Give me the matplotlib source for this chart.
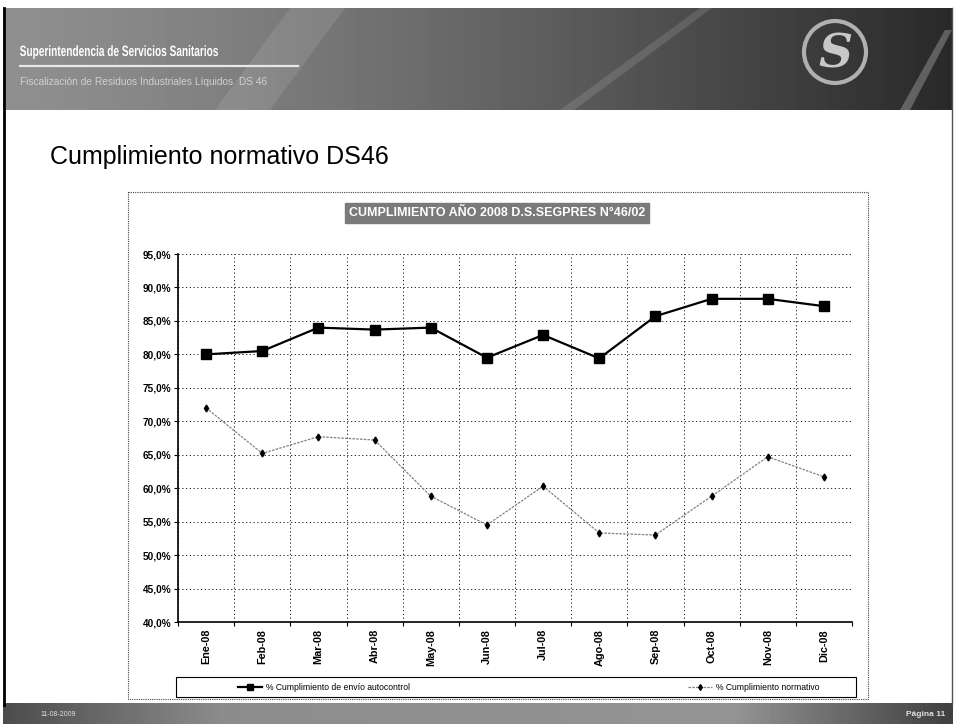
import matplotlib.pyplot as plt
import numpy as np
from matplotlib.font_manager import FontProperties
from matplotlib.patches import Rectangle, Polygon, Ellipse, PathPatch
from matplotlib.textpath import TextPath
from matplotlib.transforms import Affine2D
from matplotlib.ticker import FixedLocator, NullFormatter

plt.rcParams["font.family"] = ["Liberation Sans", "DejaVu Sans"]

# chart data
months = ["Ene-08", "Feb-08", "Mar-08", "Abr-08", "May-08", "Jun-08",
          "Jul-08", "Ago-08", "Sep-08", "Oct-08", "Nov-08", "Dic-08"]
envio_autocontrol = [80.0, 80.5, 84.0, 83.7, 84.0, 79.5,
                     82.9, 79.4, 85.7, 88.3, 88.3, 87.2]
cumplimiento_normativo = [72.0, 65.2, 67.7, 67.2, 58.8, 54.5,
                          60.3, 53.3, 53.0, 58.8, 64.7, 61.7]
y_ticks = [40, 45, 50, 55, 60, 65, 70, 75, 80, 85, 90, 95]

slide_title = "Cumplimiento normativo DS46"
chart_title = "CUMPLIMIENTO AÑO 2008 D.S.SEGPRES N°46/02"
legend_labels = ["% Cumplimiento de envío autocontrol", "% Cumplimiento normativo"]

W, H = 955, 724
fig = plt.figure(figsize=(W / 100, H / 100), dpi=100)

# background layer in pixel coordinates
bg = fig.add_axes([0, 0, 1, 1])
bg.set_xlim(0, W)
bg.set_ylim(H, 0)
bg.axis("off")

# header band with a dark gradient
grad = np.linspace(0, 1, 256)
shade = 0.56 - 0.40 * grad ** 1.3
header = np.tile(shade, (2, 1))
bg.imshow(header, cmap="gray", vmin=0, vmax=1, extent=(3, 952, 110, 8),
          aspect="auto", zorder=1)
bg.add_patch(Polygon([[215, 110], [290, 8], [345, 8], [270, 110]],
                     closed=True, color="white", alpha=0.10, lw=0, zorder=2))
bg.add_patch(Polygon([[560, 110], [700, 8], [712, 8], [574, 110]],
                     closed=True, color="white", alpha=0.12, lw=0, zorder=2))
bg.add_patch(Polygon([[900, 110], [945, 30], [952, 30], [910, 110]],
                     closed=True, color="white", alpha=0.25, lw=0, zorder=2))

# condensed header title: squeeze a bold text path horizontally
tp = TextPath((0, 0), "Superintendencia de Servicios Sanitarios", size=15,
              prop=FontProperties(family="Liberation Sans", weight="bold"))
ext = tp.get_extents()
sx = 198 / ext.width
head_tf = Affine2D().translate(-ext.x0, 0).scale(sx, -1).translate(20, 56)
bg.add_patch(PathPatch(tp, transform=head_tf + bg.transData, fc="white",
                       ec="none", zorder=3))
bg.plot([20, 298], [66, 66], color="#e8e8e8", lw=1.6, zorder=3)
bg.text(20, 82, "Fiscalización de Residuos Industriales Líquidos  DS 46",
        color="#d0d0d0", fontsize=7.3, va="center", ha="left", zorder=3)

# logo
bg.add_patch(Ellipse((835, 52), 62, 62, fill=False, ec="#b0b0b0", lw=3, zorder=3))
bg.text(835, 54, "S", color="#c8c8c8", fontsize=34, fontstyle="italic",
        fontweight="bold", ha="center", va="center", family="DejaVu Serif", zorder=4)

# slide borders
bg.plot([4, 4], [8, 705], color="black", lw=2, zorder=3)
bg.plot([952, 952], [8, 705], color="#555555", lw=1, zorder=3)

# footer band
foot = np.tile(np.concatenate([np.linspace(0.30, 0.55, 60),
                               np.linspace(0.55, 0.58, 136),
                               np.linspace(0.58, 0.25, 60)]), (2, 1))
bg.imshow(foot, cmap="gray", vmin=0, vmax=1, extent=(3, 952, 724, 703),
          aspect="auto", zorder=1)
bg.text(40, 714, "11-08-2009", color="#dddddd", fontsize=5, va="center", zorder=3)
bg.text(945, 714, "Página 11", color="#e0e0e0", fontsize=6, va="center",
        ha="right", fontweight="bold", zorder=3)

# slide title
bg.text(50, 157, slide_title, fontsize=18, color="black",
        va="center", ha="left", zorder=3)

# chart frame
bg.add_patch(Rectangle((128, 192), 740, 507, fill=False, ec="#444444",
                       lw=0.8, ls=(0, (1, 1)), zorder=2))
bg.text(497, 213, chart_title, color="white", fontsize=9, fontweight="bold",
        ha="center", va="center", zorder=3,
        bbox=dict(boxstyle="square,pad=0.3", fc="#7a7a7a", ec="#7a7a7a"))

# plot area
ax = fig.add_axes([178 / W, 1 - 622 / H, (852 - 178) / W, (622 - 254) / H])
x = np.arange(len(months))
ax.plot(x, envio_autocontrol, color="black", lw=1.6, marker="s", ms=6.5,
        zorder=4)
ax.plot(x, cumplimiento_normativo, color="#808080", lw=0.9, ls=(0, (2, 1)),
        marker="d", ms=3.5, mfc="black", mec="black", zorder=4)

ax.set_xlim(-0.5, len(months) - 0.5)
ax.set_ylim(40, 95)
ax.set_yticks(y_ticks)
ax.set_yticklabels([f"{v:.1f}%".replace(".", ",") for v in y_ticks],
                   fontsize=7.2, fontweight="bold")
ax.xaxis.set_major_locator(FixedLocator(np.arange(-0.5, len(months), 1.0)))
ax.xaxis.set_major_formatter(NullFormatter())
ax.xaxis.set_minor_locator(FixedLocator(x))
ax.set_xticklabels(months, minor=True, rotation=90, fontsize=7.8,
                   fontweight="bold")
ax.tick_params(axis="x", which="minor", length=0, pad=5)
ax.tick_params(axis="x", which="major", length=3, direction="out")
ax.tick_params(axis="y", length=3, direction="out", pad=2)

ax.grid(True, which="major", color="black", lw=0.6, ls=(0, (1.5, 3)))
for side in ["top", "right"]:
    ax.spines[side].set_visible(False)
ax.spines["left"].set_linewidth(1.2)
ax.spines["bottom"].set_linewidth(1.2)
ax.set_axisbelow(True)

# legend box below the plot
bg.add_patch(Rectangle((176, 677), 680, 20, fill=False, ec="black", lw=0.8,
                       zorder=2))
bg.plot([238, 262], [687, 687], color="black", lw=1.6, zorder=3)
bg.plot([250], [687], color="black", marker="s", ms=5, zorder=3)
bg.text(266, 687, legend_labels[0], fontsize=6.2, va="center", zorder=3)
bg.plot([688, 712], [687, 687], color="#808080", lw=0.9, ls=(0, (2, 1)), zorder=3)
bg.plot([700], [687], color="black", marker="d", ms=3, zorder=3)
bg.text(716, 687, legend_labels[1], fontsize=6.2, va="center", zorder=3)

fig.savefig("out.png", dpi=100)
